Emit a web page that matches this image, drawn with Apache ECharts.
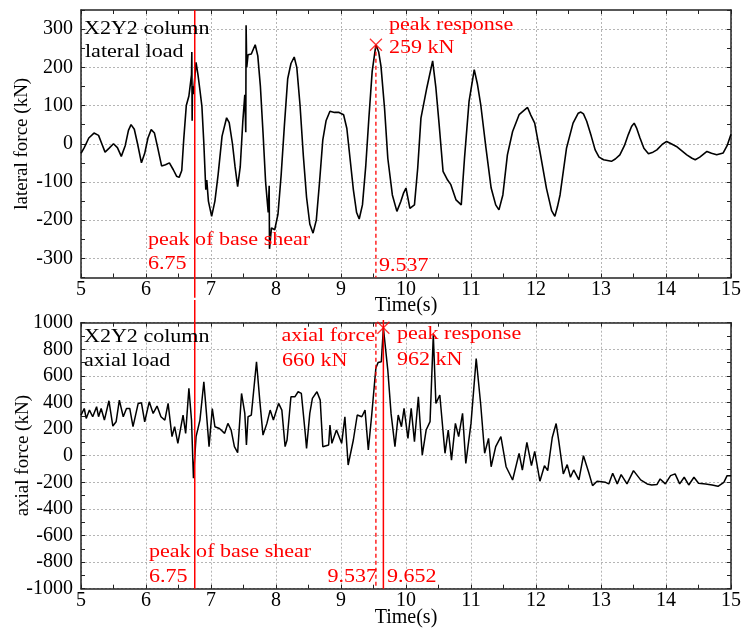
<!DOCTYPE html>
<html>
<head>
<meta charset="utf-8">
<script src="https://cdn.jsdelivr.net/npm/echarts@6/dist/echarts.min.js"></script>
<style>html,body{margin:0;padding:0;background:#fff}#c{width:745px;height:633px}</style>
</head>
<body>
<div id="c"></div>
<script>
// ---- data ----
const lateralTime = [5.00,5.05,5.12,5.20,5.27,5.32,5.37,5.43,5.50,5.56,5.62,5.68,5.73,5.77,5.82,5.87,5.93,5.98,6.03,6.08,6.13,6.18,6.24,6.30,6.36,6.42,6.47,6.51,6.55,6.58,6.62,6.66,6.69,6.70,6.705,6.71,6.715,6.73,6.77,6.80,6.83,6.86,6.89,6.92,6.935,6.96,7.01,7.06,7.11,7.17,7.24,7.28,7.33,7.37,7.41,7.45,7.49,7.52,7.535,7.54,7.55,7.57,7.62,7.68,7.72,7.76,7.80,7.84,7.88,7.895,7.90,7.93,7.98,8.03,8.08,8.13,8.18,8.23,8.28,8.32,8.37,8.42,8.47,8.52,8.57,8.62,8.67,8.72,8.77,8.83,8.90,8.97,9.04,9.09,9.14,9.19,9.24,9.28,9.33,9.38,9.43,9.48,9.537,9.58,9.615,9.67,9.72,9.79,9.86,9.92,9.96,10.00,10.06,10.13,10.18,10.23,10.32,10.41,10.46,10.51,10.57,10.64,10.69,10.77,10.85,10.90,10.97,11.05,11.10,11.15,11.23,11.31,11.38,11.43,11.49,11.56,11.64,11.74,11.82,11.87,11.92,11.98,12.06,12.16,12.24,12.29,12.33,12.37,12.47,12.57,12.65,12.69,12.73,12.78,12.85,12.91,12.97,13.04,13.16,13.22,13.29,13.36,13.42,13.47,13.51,13.55,13.60,13.66,13.73,13.80,13.86,13.94,14.01,14.08,14.16,14.24,14.32,14.40,14.45,14.52,14.63,14.70,14.78,14.88,14.94,15.00];
const lateralForce = [-25,-10,15,28,22,0,-22,-12,0,-10,-33,-5,35,50,38,0,-50,-25,15,37,28,-10,-58,-55,-50,-68,-85,-88,-70,10,100,125,120,180,240,60,150,130,213,180,140,98,0,-120,-95,-150,-190,-150,-80,20,68,55,0,-60,-112,-60,60,128,30,310,200,233,235,259,230,150,30,-100,-180,-110,-275,-220,-225,-185,-80,50,170,210,227,200,100,-30,-140,-210,-234,-200,-100,10,60,85,82,82,76,40,-40,-120,-180,-197,-160,-60,70,190,259,240,203,93,-38,-134,-177,-151,-130,-116,-169,-160,-64,67,146,217,146,50,-72,-95,-107,-147,-160,-38,111,194,155,102,-11,-116,-160,-173,-134,-29,32,76,88,95,75,54,-20,-116,-175,-190,-165,-134,-11,54,80,83,78,59,20,-16,-35,-42,-46,-40,-29,-5,24,45,54,40,15,-12,-26,-22,-16,-2,6,0,-7,-18,-29,-38,-42,-35,-20,-25,-29,-24,-5,25];

const axialTime = [5.00,5.05,5.08,5.13,5.18,5.24,5.27,5.31,5.36,5.43,5.49,5.54,5.59,5.65,5.70,5.75,5.80,5.88,5.93,5.98,6.05,6.11,6.17,6.23,6.29,6.34,6.40,6.44,6.49,6.57,6.61,6.66,6.70,6.73,6.77,6.83,6.89,6.93,6.97,7.02,7.06,7.13,7.21,7.26,7.31,7.36,7.41,7.47,7.52,7.545,7.57,7.62,7.70,7.75,7.80,7.86,7.91,7.96,8.04,8.09,8.14,8.17,8.23,8.29,8.34,8.39,8.45,8.47,8.52,8.56,8.63,8.68,8.72,8.81,8.83,8.86,8.93,9.01,9.06,9.11,9.19,9.25,9.32,9.37,9.42,9.47,9.52,9.537,9.57,9.62,9.652,9.72,9.77,9.83,9.88,9.93,9.97,10.03,10.08,10.13,10.19,10.25,10.31,10.37,10.42,10.46,10.52,10.60,10.65,10.70,10.76,10.81,10.87,10.92,11.00,11.08,11.15,11.21,11.27,11.31,11.38,11.46,11.54,11.64,11.74,11.79,11.86,11.93,11.98,12.06,12.13,12.18,12.25,12.31,12.35,12.42,12.48,12.53,12.58,12.66,12.73,12.81,12.87,12.94,13.07,13.12,13.18,13.25,13.31,13.40,13.50,13.61,13.71,13.78,13.86,13.91,13.99,14.07,14.14,14.21,14.28,14.35,14.43,14.50,14.61,14.71,14.80,14.89,14.94,15.00];
const axialForce = [305,355,280,343,293,368,293,355,268,413,223,255,418,293,355,355,218,393,398,255,405,318,373,293,268,393,143,218,93,305,168,506,268,-170,143,268,556,318,68,355,218,205,168,243,193,68,23,468,318,80,293,305,706,418,155,243,343,268,393,343,68,118,443,443,481,468,168,55,318,431,481,418,68,80,230,93,193,93,293,-70,118,306,293,343,43,293,569,660,700,706,962,644,318,68,306,218,356,130,356,105,443,5,193,256,907,393,456,18,193,-33,243,143,318,-58,243,731,381,18,130,-83,68,143,-83,-183,18,-108,100,-75,32,-192,-75,-112,137,242,112,-137,-67,-162,-107,-182,0,-125,-225,-192,-200,-212,-132,-212,-142,-212,-112,-182,-212,-220,-217,-175,-212,-150,-137,-212,-162,-220,-162,-207,-212,-220,-230,-200,-150,-150];

const baseShearTime = 6.75;
const lateralPeak = [9.537, 259];
const axialPeak = [9.652, 962];
const axialAtLateralPeak = 660;

const timeRange = [5, 15];
const lateralRange = [-350, 350];
const axialRange = [-1000, 1000];

// ---- chart ----
const FONT = 'Liberation Serif';
const RED = '#ff0000';
const zip = (a, b) => a.map((v, i) => [v, b[i]]);

function xAxes(gridIndex, nameGap) {
  const common = {
    gridIndex, type: 'value', min: timeRange[0], max: timeRange[1], interval: 1,
    axisLine: { show: true, onZero: false, lineStyle: { color: '#222', width: 1.5 } },
    axisTick: { show: true, inside: true, length: 4, lineStyle: { color: '#222' } },
    minorTick: { show: true, splitNumber: 2, length: 4, lineStyle: { color: '#222' } }
  };
  return [
    Object.assign({}, common, {
      position: 'bottom',
      name: 'Time(s)', nameLocation: 'middle', nameGap, nameMoveOverlap: false,
      nameTextStyle: { fontFamily: FONT, fontSize: 20, color: '#000' },
      axisLabel: { fontFamily: FONT, fontSize: 20, color: '#000', margin: 2 },
      splitLine: { show: true, lineStyle: { color: '#b5b5b5', type: [2, 2], width: 1 } }
    }),
    Object.assign({}, common, {
      position: 'top', axisLabel: { show: false }, splitLine: { show: false }
    })
  ];
}

const option = {
  animation: false,
  backgroundColor: '#fff',
  grid: [
    { left: 81, right: 14, top: 10, height: 267.5, outerBoundsMode: 'none', containLabel: false },
    { left: 81, right: 14, top: 322.7, height: 266, outerBoundsMode: 'none', containLabel: false }
  ],
  xAxis: [...xAxes(0, 18), ...xAxes(1, 19)],
  yAxis: [
    {
      gridIndex: 0, type: 'value', min: lateralRange[0], max: lateralRange[1], interval: 50,
      name: 'lateral force (kN)', nameLocation: 'middle', nameGap: 49, nameMoveOverlap: false,
      nameTextStyle: { fontFamily: FONT, fontSize: 19, color: '#000' },
      axisLine: { show: true, lineStyle: { color: '#222', width: 1.5 } },
      axisTick: { show: true, inside: true, length: 4, lineStyle: { color: '#222' } },
      axisLabel: { fontFamily: FONT, fontSize: 20, color: '#000', margin: 8,
        formatter: v => (Math.round(v) % 100 === 0 ? String(v) : '') },
      splitLine: { show: true, lineStyle: { color: ['rgba(0,0,0,0)', '#b5b5b5'], type: [2, 2], width: 1 } }
    },
    {
      gridIndex: 0, type: 'value', position: 'right', min: lateralRange[0], max: lateralRange[1], interval: 50,
      axisLine: { show: true, lineStyle: { color: '#222', width: 1.5 } },
      axisTick: { show: true, inside: true, length: 4, lineStyle: { color: '#222' } },
      axisLabel: { show: false }, splitLine: { show: false }
    },
    {
      gridIndex: 1, type: 'value', min: axialRange[0], max: axialRange[1], interval: 200,
      name: 'axial force (kN)', nameLocation: 'middle', nameGap: 48, nameMoveOverlap: false,
      nameTextStyle: { fontFamily: FONT, fontSize: 19, color: '#000' },
      axisLine: { show: true, lineStyle: { color: '#222', width: 1.5 } },
      axisTick: { show: true, inside: true, length: 4, lineStyle: { color: '#222' } },
      minorTick: { show: true, splitNumber: 2, length: 4, lineStyle: { color: '#222' } },
      axisLabel: { fontFamily: FONT, fontSize: 20, color: '#000', margin: 8, formatter: v => String(v) },
      splitLine: { show: true, lineStyle: { color: '#b5b5b5', type: [2, 2], width: 1 } }
    },
    {
      gridIndex: 1, type: 'value', position: 'right', min: axialRange[0], max: axialRange[1], interval: 200,
      axisLine: { show: true, lineStyle: { color: '#222', width: 1.5 } },
      axisTick: { show: true, inside: true, length: 4, lineStyle: { color: '#222' } },
      minorTick: { show: true, splitNumber: 2, length: 4, lineStyle: { color: '#222' } },
      axisLabel: { show: false }, splitLine: { show: false }
    }
  ],
  series: [
    { type: 'line', xAxisIndex: 0, yAxisIndex: 0, data: zip(lateralTime, lateralForce),
      showSymbol: false, lineStyle: { color: '#000', width: 1.6 }, z: 3 },
    { type: 'line', xAxisIndex: 2, yAxisIndex: 2, data: zip(axialTime, axialForce),
      showSymbol: false, lineStyle: { color: '#000', width: 1.5 }, z: 3 },
    // base-shear marker lines (extend past the plot frame as in the reference)
    { type: 'line', xAxisIndex: 0, yAxisIndex: 0, clip: false, showSymbol: false,
      data: [[baseShearTime, lateralRange[1]], [baseShearTime, -403]],
      lineStyle: { color: RED, width: 1.5 }, z: 4 },
    { type: 'line', xAxisIndex: 2, yAxisIndex: 2, clip: false, showSymbol: false,
      data: [[baseShearTime, 1171], [baseShearTime, axialRange[0]]],
      lineStyle: { color: RED, width: 1.5 }, z: 4 },
    // peak time dashed lines
    { type: 'line', xAxisIndex: 0, yAxisIndex: 0, showSymbol: false,
      data: [[lateralPeak[0], lateralPeak[1]], [lateralPeak[0], lateralRange[0]]],
      lineStyle: { color: RED, width: 1.3, type: [4, 3] }, z: 4 },
    { type: 'line', xAxisIndex: 2, yAxisIndex: 2, showSymbol: false,
      data: [[lateralPeak[0], axialRange[1]], [lateralPeak[0], axialRange[0]]],
      lineStyle: { color: RED, width: 1.3, type: [4, 3] }, z: 4 },
    { type: 'line', xAxisIndex: 2, yAxisIndex: 2, showSymbol: false, clip: false,
      data: [[axialPeak[0], 1020], [axialPeak[0], axialRange[0]]],
      lineStyle: { color: RED, width: 1.5 }, z: 4 },
    // peak markers
    { type: 'scatter', xAxisIndex: 0, yAxisIndex: 0, data: [lateralPeak],
      symbol: 'path://M0 0L10 10M10 0L0 10', symbolSize: 12,
      itemStyle: { color: 'rgba(0,0,0,0)', borderColor: RED, borderWidth: 1.3 }, z: 5 },
    { type: 'scatter', xAxisIndex: 2, yAxisIndex: 2, data: [axialPeak],
      symbol: 'path://M0 0L10 10M10 0L0 10', symbolSize: 12,
      itemStyle: { color: 'rgba(0,0,0,0)', borderColor: RED, borderWidth: 1.3 }, z: 5 }
  ]
};

function txt(text, x, y, color, align) {
  return { type: 'text', x, y, scaleX: 1.16, z: 10,
    style: { text, fontFamily: FONT, fontSize: 19, fill: color, align: align || 'left', verticalAlign: 'middle' } };
}
option.graphic = [
  txt('X2Y2 column', 84, 29, '#000'),
  txt('lateral load', 85, 52, '#000'),
  txt('peak of base shear', 148, 240, RED),
  txt(String(baseShearTime), 148, 264, RED),
  txt('peak response', 389, 25, RED),
  txt(lateralPeak[1] + ' kN', 389, 48, RED),
  txt(String(lateralPeak[0]), 379, 266, RED),
  txt('X2Y2 column', 84, 337, '#000'),
  txt('axial load', 84, 361, '#000'),
  txt('axial force', 375, 336, RED, 'right'),
  txt(axialAtLateralPeak + ' kN', 282, 361, RED),
  txt('peak response', 397, 334, RED),
  txt(axialPeak[1] + ' kN', 397, 360, RED),
  txt('peak of base shear', 149, 552, RED),
  txt(String(baseShearTime), 149, 577, RED),
  txt(String(lateralPeak[0]), 377, 577, RED, 'right'),
  txt(String(axialPeak[0]), 387, 577, RED)
];

const chart = echarts.init(document.getElementById('c'), null, { renderer: 'canvas' });
chart.setOption(option);
</script>
</body>
</html>
